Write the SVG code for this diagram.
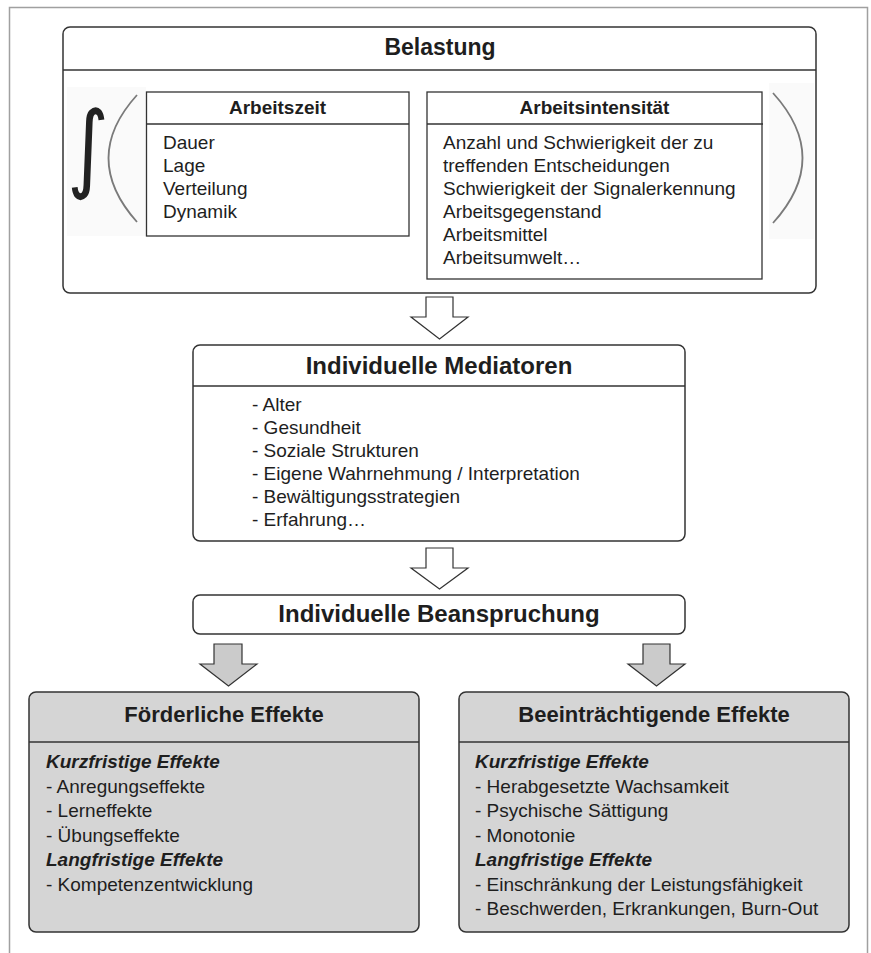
<svg xmlns="http://www.w3.org/2000/svg" width="871" height="953" viewBox="0 0 871 953">
<style>
.box{fill:#fff;stroke:#333;stroke-width:1.5}
.gbox{fill:#d5d5d5;stroke:#333;stroke-width:1.5}
.sq{fill:#fff;stroke:#333;stroke-width:1.3}
.div{stroke:#333;stroke-width:1.5}
.t{font-family:"Liberation Sans",Arial,sans-serif;fill:#1e1e1e}
.h1{font-size:23px;font-weight:bold;text-anchor:middle}
.h2{font-size:24px;font-weight:bold;text-anchor:middle}
.h3{font-size:22px;font-weight:bold;text-anchor:middle}
.h4{font-size:19px;font-weight:bold;text-anchor:middle}
.b{font-size:19px}
.bi{font-size:19px;font-weight:bold;font-style:italic}
.warr{fill:#fff;stroke:#333;stroke-width:1.2;stroke-linejoin:miter}
.garr{fill:#cbcbcb;stroke:#333;stroke-width:1.2;stroke-linejoin:miter}
.paren{fill:none;stroke:#7a7a7a;stroke-width:1.8}
</style>
<rect width="871" height="953" fill="#fff"/>
<path d="M9.5,953 V7.5 H867.5 V953" fill="none" stroke="#a0a0a0" stroke-width="1.5"/>

<g id="belastung">
<rect class="box" x="63" y="27" width="753" height="266" rx="7"/>
<line class="div" x1="63" y1="70" x2="816" y2="70"/>
<text class="t h1" x="440" y="55">Belastung</text>
<rect x="67" y="87" width="79" height="149" fill="#fafafa"/>
<rect x="769" y="83" width="45" height="156" fill="#fafafa"/>
<text transform="translate(88,180) scale(1,1.2)" x="0" y="0" font-family="DejaVu Sans,sans-serif" font-size="80" text-anchor="middle" fill="#222">∫</text>
<path class="paren" d="M137,95 Q80,158 137,222"/>
<path class="paren" d="M773,93 Q832,158 773,223"/>
</g>

<g id="arbeitszeit">
<rect class="sq" x="146.5" y="92" width="262.5" height="144"/>
<line class="div" x1="146.5" y1="124" x2="409" y2="124"/>
<text class="t h4" x="277.5" y="114">Arbeitszeit</text>
<text class="t b" x="163" y="149">Dauer</text>
<text class="t b" x="163" y="172">Lage</text>
<text class="t b" x="163" y="195">Verteilung</text>
<text class="t b" x="163" y="218">Dynamik</text>
</g>

<g id="arbeitsintensitaet">
<rect class="sq" x="427" y="92" width="335" height="187"/>
<line class="div" x1="427" y1="124" x2="763" y2="124"/>
<text class="t h4" x="594.5" y="114">Arbeitsintensität</text>
<text class="t b" x="443" y="149">Anzahl und Schwierigkeit der zu</text>
<text class="t b" x="443" y="172">treffenden Entscheidungen</text>
<text class="t b" x="443" y="195">Schwierigkeit der Signalerkennung</text>
<text class="t b" x="443" y="218">Arbeitsgegenstand</text>
<text class="t b" x="443" y="241">Arbeitsmittel</text>
<text class="t b" x="443" y="264">Arbeitsumwelt…</text>
</g>

<g id="mediatoren">
<rect class="box" x="193" y="345" width="492" height="196" rx="7"/>
<line class="div" x1="193" y1="386" x2="685" y2="386"/>
<text class="t h2" x="439" y="374">Individuelle Mediatoren</text>
<text class="t b" x="252" y="411">- Alter</text>
<text class="t b" x="252" y="434">- Gesundheit</text>
<text class="t b" x="252" y="457">- Soziale Strukturen</text>
<text class="t b" x="252" y="480">- Eigene Wahrnehmung / Interpretation</text>
<text class="t b" x="252" y="503">- Bewältigungsstrategien</text>
<text class="t b" x="252" y="526">- Erfahrung…</text>
</g>

<g id="beanspruchung">
<rect class="box" x="193" y="595" width="492" height="39" rx="7"/>
<text class="t h2" x="439" y="622">Individuelle Beanspruchung</text>
</g>

<g id="foerderlich">
<rect class="gbox" x="29" y="692" width="390" height="240" rx="7"/>
<line class="div" x1="29" y1="742" x2="419" y2="742"/>
<text class="t h3" x="224" y="722">Förderliche Effekte</text>
<text class="t bi" x="46" y="768">Kurzfristige Effekte</text>
<text class="t b" x="46" y="792.5">- Anregungseffekte</text>
<text class="t b" x="46" y="817">- Lerneffekte</text>
<text class="t b" x="46" y="841.5">- Übungseffekte</text>
<text class="t bi" x="46" y="866">Langfristige Effekte</text>
<text class="t b" x="46" y="890.5">- Kompetenzentwicklung</text>
</g>

<g id="beeintraechtigend">
<rect class="gbox" x="459" y="692" width="390" height="240" rx="7"/>
<line class="div" x1="459" y1="742" x2="849" y2="742"/>
<text class="t h3" x="654" y="722">Beeinträchtigende Effekte</text>
<text class="t bi" x="475" y="768">Kurzfristige Effekte</text>
<text class="t b" x="475" y="792.5">- Herabgesetzte Wachsamkeit</text>
<text class="t b" x="475" y="817">- Psychische Sättigung</text>
<text class="t b" x="475" y="841.5">- Monotonie</text>
<text class="t bi" x="475" y="866">Langfristige Effekte</text>
<text class="t b" x="475" y="890.5">- Einschränkung der Leistungsfähigkeit</text>
<text class="t b" x="475" y="915">- Beschwerden, Erkrankungen, Burn-Out</text>
</g>

<g id="connectors">
<path class="warr" d="M426,297 H453 V317 H468 L439.5,339 L411,317 H426 Z"/>
<path class="warr" d="M426,548 H453 V568 H468 L439.5,589 L411,568 H426 Z"/>
<path class="garr" d="M214,644 H242 V664 H257 L228.5,686 L200,664 H214 Z"/>
<path class="garr" d="M643,644 H670 V664 H685 L656.5,686 L628,664 H643 Z"/>
</g>
</svg>
